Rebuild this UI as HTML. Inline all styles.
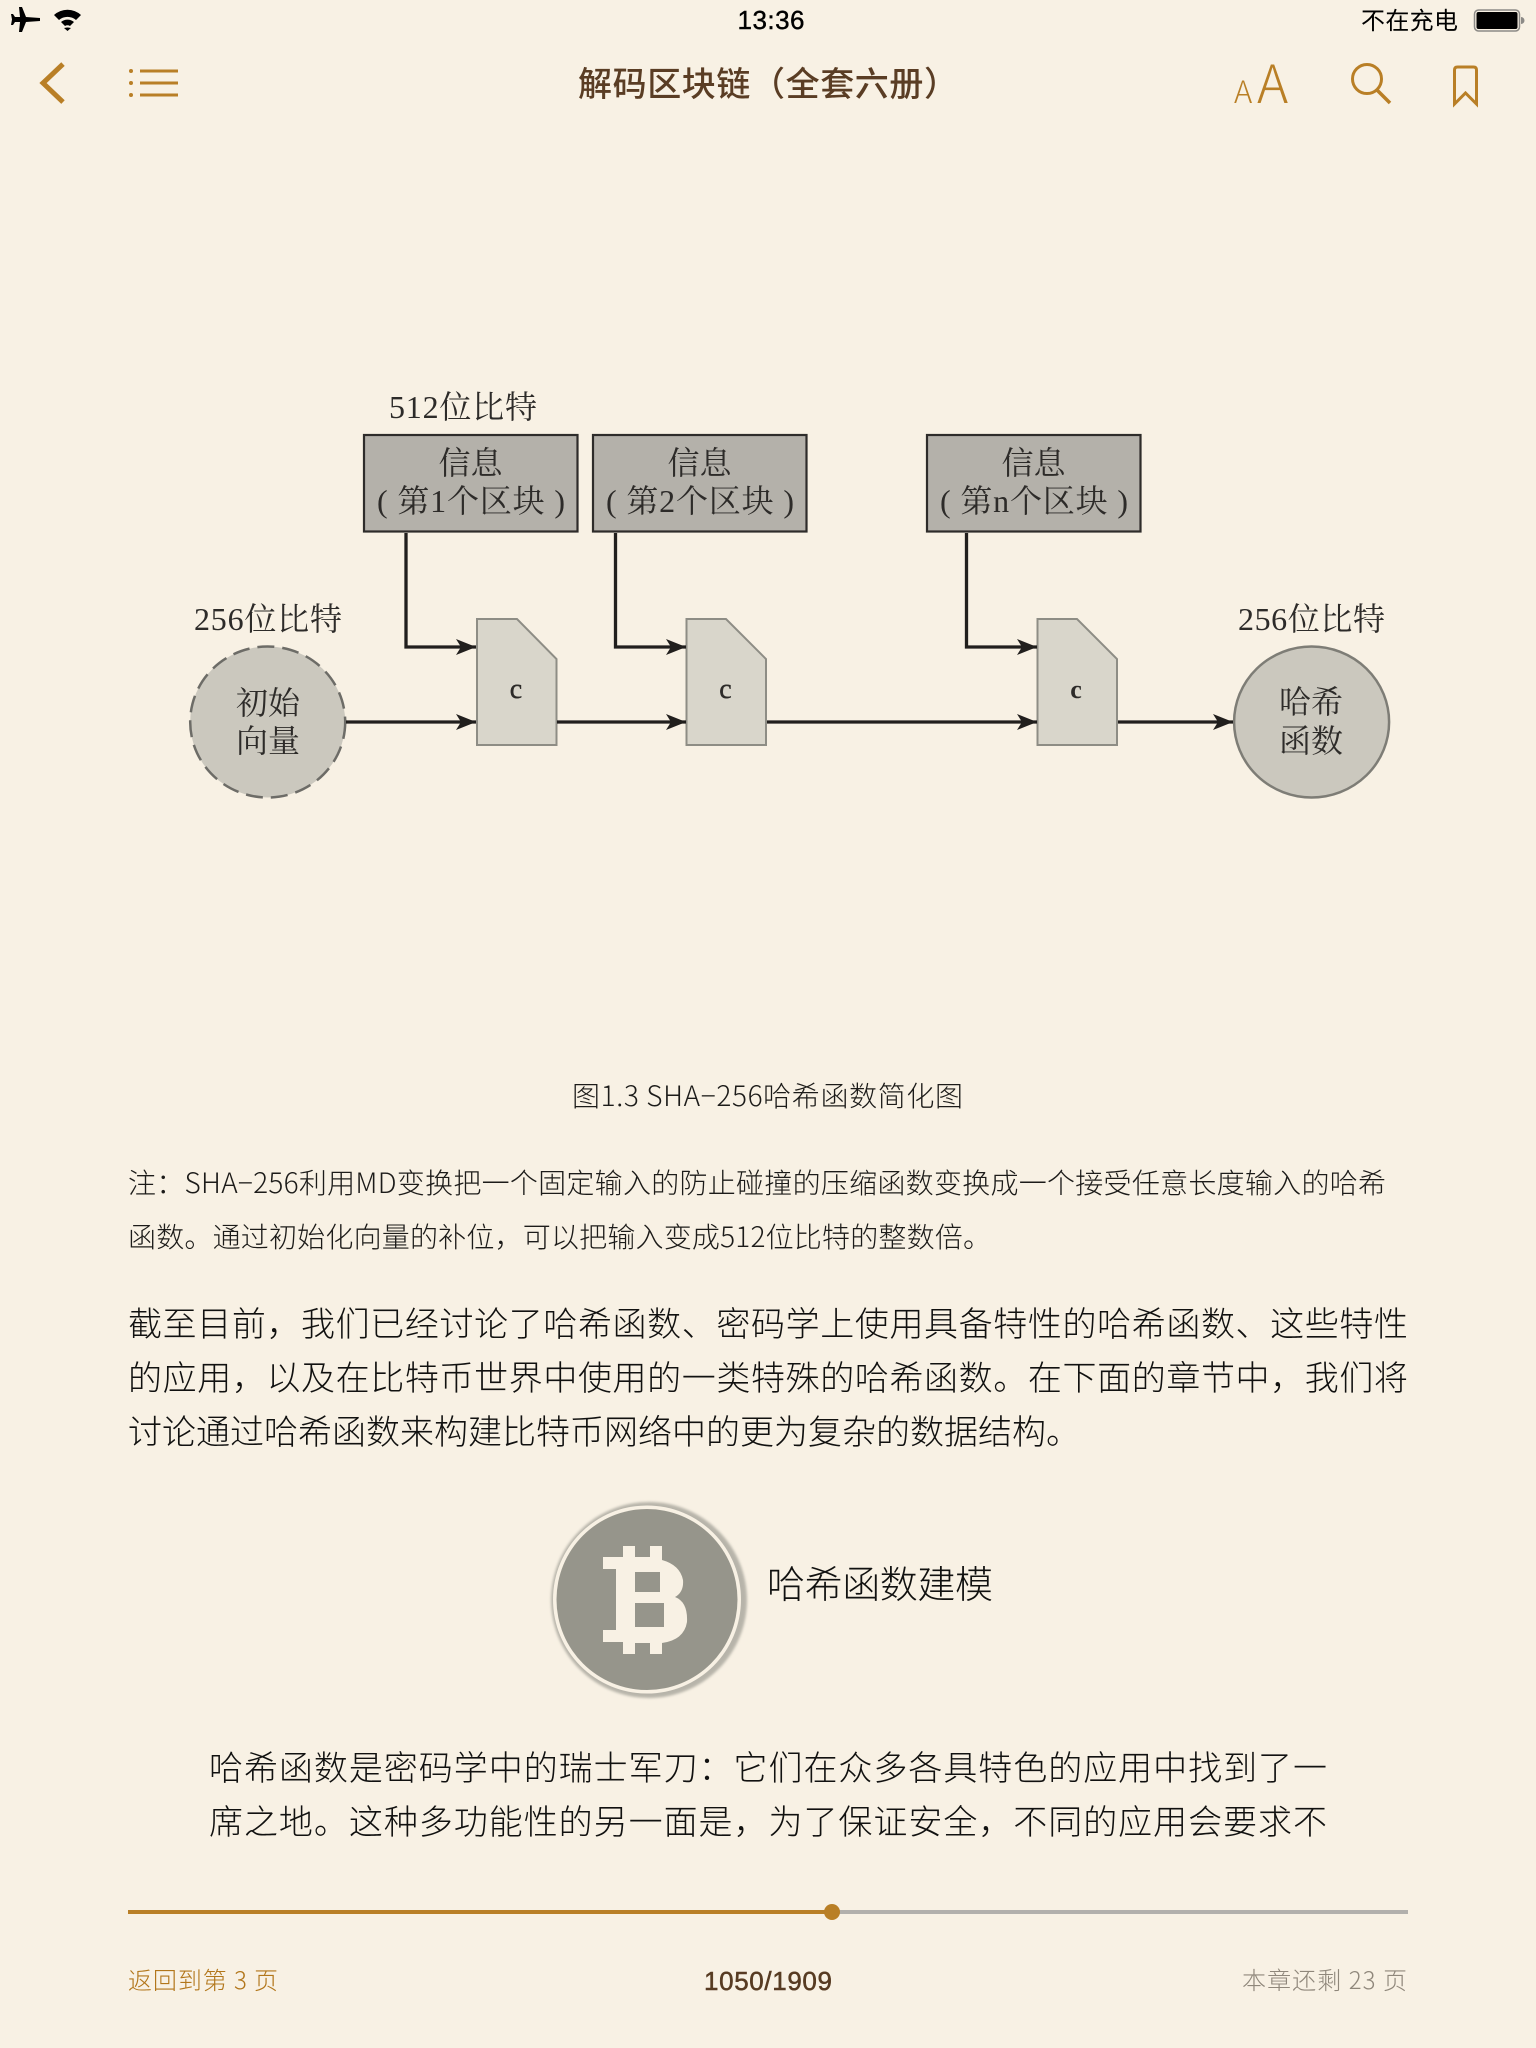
<!DOCTYPE html>
<html lang="zh"><head><meta charset="utf-8"><title>解码区块链</title>
<style>
html,body{margin:0;padding:0;background:#f8f1e4;width:1536px;height:2048px;overflow:hidden}
svg{display:block}
.s{font-family:"Noto Sans CJK SC","Liberation Sans",sans-serif;font-weight:300}
.d{font-family:"Liberation Serif","Noto Serif CJK SC",serif;fill:#2d2b29;font-size:32px}
.b{font-size:34px;fill:#111110}
.n{font-size:28px;fill:#1c1b19}
</style></head><body>
<svg xmlns="http://www.w3.org/2000/svg" width="1536" height="2048" viewBox="0 0 1536 2048">
<defs>
<marker id="ah" markerUnits="userSpaceOnUse" markerWidth="22" markerHeight="18" refX="20" refY="8" orient="auto"><path d="M0 0L20 8L0 16L5 8Z" fill="#211f1d"/></marker>
<filter id="bl" x="-10%" y="-10%" width="120%" height="120%"><feGaussianBlur stdDeviation="1.200"/></filter>
</defs>
<rect width="1536" height="2048" fill="#f8f1e4"/>

<!-- status bar -->
<path d="M19 7L22 7L26 17L40 18L40 21L26 22L22 32L19 32L20 22L15 22L13 25L11 25L12 19.500L11 14L13 14L15 17L20 17Z" fill="#000"/>
<path d="M54 15A20 20 0 0 1 81 15L76 20A13 13 0 0 0 59 20Z M61 22A10 10 0 0 1 74 22L70 26A5 5 0 0 0 65 26Z M67 27.500L68 27.500L71 28L67.500 31L64 28Z" fill="#000"/>
<text x="771" y="29" text-anchor="middle" font-family="Liberation Sans, sans-serif" font-size="26" fill="#000" stroke="#000" stroke-width=".4" textLength="67">13:36</text>
<text x="1361" y="29" class="s" font-size="24" fill="#000" textLength="97" style="font-weight:400">不在充电</text>
<rect x="1474.500" y="10" width="45" height="21" rx="4" fill="none" stroke="#8c8a86" stroke-width="1.500"/>
<rect x="1476.500" y="12" width="41" height="17" rx="2" fill="#000"/>
<path d="M1521 17A3 3 0 0 1 1521 24Z" fill="#8c8a86"/>

<!-- nav bar -->
<path d="M63 64L43 83L63 102" fill="none" stroke="#b97f26" stroke-width="5"/>
<g fill="#b97f26"><circle cx="131" cy="71" r="2"/><circle cx="131" cy="83" r="2"/><circle cx="131" cy="95" r="2"/><rect x="140" y="69.500" width="38" height="3"/><rect x="140" y="81.500" width="38" height="3"/><rect x="140" y="93.500" width="38" height="3"/></g>
<text x="578" y="96" class="s" style="font-weight:500" font-size="34" fill="#5a3d24" textLength="380">解码区块链（全套六册）</text>
<text x="1234" y="103" class="s" font-size="31" fill="#b97f26">A</text>
<text x="1257" y="103" class="s" font-size="53" fill="#b97f26">A</text>
<circle cx="1367" cy="79" r="14.500" fill="none" stroke="#b97f26" stroke-width="3"/>
<path d="M1377 90L1390 103" stroke="#b97f26" stroke-width="3.500" fill="none"/>
<path d="M1454.500 104L1454.500 70Q1454.500 67 1457.500 67L1473.500 67Q1476.500 67 1476.500 70L1476.500 104L1465.500 93Z" fill="none" stroke="#b97f26" stroke-width="3"/>

<!-- diagram -->
<g fill="#b4b1aa" stroke="#2e2c2a" stroke-width="2.200">
<rect x="364" y="435" width="213.500" height="96.500"/>
<rect x="593" y="435" width="213.500" height="96.500"/>
<rect x="927" y="435" width="213.500" height="96.500"/>
</g>
<g fill="#d9d6cb" stroke="#8e8d85" stroke-width="2">
<path d="M477 619L517 619L556.500 659L556.500 745L477 745Z"/>
<path d="M686.500 619L726 619L766 659L766 745L686.500 745Z"/>
<path d="M1037.500 619L1077 619L1117 659L1117 745L1037.500 745Z"/>
</g>
<ellipse cx="267.700" cy="722" rx="77.500" ry="75.500" fill="#cbc8be" stroke="#6d6c67" stroke-width="2.500" stroke-dasharray="17 8"/>
<ellipse cx="1311.600" cy="722" rx="77.500" ry="75.500" fill="#cbc8be" stroke="#7e7d76" stroke-width="2.500"/>
<g fill="none" stroke="#211f1d" stroke-width="3.300">
<path d="M406 533L406 647L476 647" marker-end="url(#ah)"/>
<path d="M615.500 533L615.500 647L686 647" marker-end="url(#ah)"/>
<path d="M966.500 533L966.500 647L1037 647" marker-end="url(#ah)"/>
<path d="M346 722L476 722" marker-end="url(#ah)"/>
<path d="M557 722L686 722" marker-end="url(#ah)"/>
<path d="M767 722L1037 722" marker-end="url(#ah)"/>
<path d="M1118 722L1233 722" marker-end="url(#ah)"/>
</g>
<text x="389" y="418" class="d" textLength="148">512位比特</text>
<text x="194" y="630" class="d" textLength="148">256位比特</text>
<text x="1238" y="630" class="d" textLength="147">256位比特</text>
<text x="470.500" y="474" class="d" text-anchor="middle">信息</text>
<text x="377" y="512" class="d" textLength="188">( 第1个区块 )</text>
<text x="699.500" y="474" class="d" text-anchor="middle">信息</text>
<text x="606" y="512" class="d" textLength="188">( 第2个区块 )</text>
<text x="1033.500" y="474" class="d" text-anchor="middle">信息</text>
<text x="940" y="512" class="d" textLength="188">( 第n个区块 )</text>
<text x="516" y="698" class="d" text-anchor="middle" stroke="#2d2b29" stroke-width=".4" style="font-size:28px">c</text>
<text x="725.500" y="698" class="d" text-anchor="middle" stroke="#2d2b29" stroke-width=".4" style="font-size:28px">c</text>
<text x="1076" y="698" class="d" text-anchor="middle" style="font-size:26px;font-weight:700">c</text>
<text x="268" y="714" class="d" text-anchor="middle">初始</text>
<text x="268" y="752" class="d" text-anchor="middle">向量</text>
<text x="1311" y="713" class="d" text-anchor="middle">哈希</text>
<text x="1311" y="752" class="d" text-anchor="middle">函数</text>

<!-- caption + note -->
<text x="572" y="1106" class="s n" textLength="391">图1.3 SHA−256哈希函数简化图</text>
<text x="128" y="1193" class="s n" textLength="1258">注：SHA−256利用MD变换把一个固定输入的防止碰撞的压缩函数变换成一个接受任意长度输入的哈希</text>
<text x="128" y="1247" class="s n" textLength="863">函数。通过初始化向量的补位，可以把输入变成512位比特的整数倍。</text>

<!-- body -->
<text x="128" y="1336" class="s b" textLength="1280">截至目前，我们已经讨论了哈希函数、密码学上使用具备特性的哈希函数、这些特性</text>
<text x="128" y="1390" class="s b" textLength="1280">的应用，以及在比特币世界中使用的一类特殊的哈希函数。在下面的章节中，我们将</text>
<text x="128" y="1444" class="s b" textLength="952">讨论通过哈希函数来构建比特币网络中的更为复杂的数据结构。</text>

<!-- coin -->
<circle cx="649" cy="1600" r="98" fill="#a8a69c" opacity=".8" filter="url(#bl)"/>
<circle cx="647" cy="1599.500" r="94" fill="#f8f1e4"/>
<circle cx="647" cy="1599.500" r="90.500" fill="#96958b"/>
<path fill-rule="evenodd" fill="#f8f1e4" d="M623 1546L635 1546L635 1557L650 1557L650 1546L662 1546L662 1560Q680 1565 683 1580Q684 1592 675 1597Q688 1602 687 1622Q684 1640 662 1643L662 1654L650 1654L650 1643L635 1643L635 1654L623 1654L623 1642L603 1642L603 1630L616 1630L616 1569L603 1569L603 1557L623 1557Z M635 1572L635 1592L660 1592L660 1572Z M635 1603L635 1627L664 1627L664 1603Z"/>
<text x="767" y="1598" class="s" font-size="38" fill="#111110" textLength="226">哈希函数建模</text>

<text x="209" y="1780" class="s b" textLength="1118">哈希函数是密码学中的瑞士军刀：它们在众多各具特色的应用中找到了一</text>
<text x="209" y="1834" class="s b" textLength="1118">席之地。这种多功能性的另一面是，为了保证安全，不同的应用会要求不</text>

<!-- progress -->
<rect x="128" y="1910" width="704" height="4" fill="#b97f26"/>
<rect x="832" y="1910" width="576" height="4" fill="#b2b0ac"/>
<circle cx="832" cy="1912" r="8" fill="#b97f26"/>

<!-- footer -->
<text x="128" y="1989" class="s" font-size="24" fill="#b2761a" textLength="150">返回到第 3 页</text>
<text x="704" y="1990" font-family="Liberation Sans, sans-serif" font-size="26" fill="#573b22" stroke="#573b22" stroke-width=".5" textLength="128">1050/1909</text>
<text x="1242" y="1989" class="s" font-size="24" fill="#8f877b" textLength="165">本章还剩 23 页</text>
</svg>
</body></html>
